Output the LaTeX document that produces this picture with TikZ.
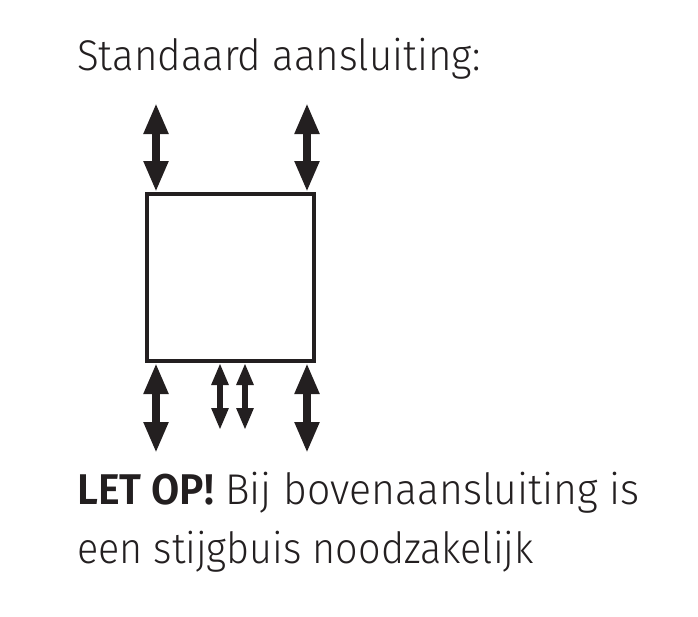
\documentclass[tikz,border=0pt]{standalone}
\usepackage{fontspec}
\setmainfont{Fira Sans Light}[BoldFont=Fira Sans SemiBold]
\usepackage{tikz}
\usetikzlibrary{arrows.meta,positioning}

\definecolor{ink}{HTML}{231F20}

\begin{document}
\begin{tikzpicture}[x=1pt,y=-1pt,
		pipe/.style={{Triangle[length=31pt,width=23pt]}-{Triangle[length=31pt,width=23pt]},line width=8.5pt,color=ink},
		thinpipe/.style={{Triangle[length=22pt,width=16pt]}-{Triangle[length=22pt,width=16pt]},line width=6pt,color=ink},
		label/.style={anchor=base west,inner sep=0pt,text=ink,font=\fontsize{43}{59}\selectfont}]
			\useasboundingbox (0,0) rectangle (698,616);
			\node[label] (title) at (77,70) {\scalebox{0.937}[1]{Standaard aansluiting:}};
			\node[draw=ink,line width=4pt,minimum width=167pt,minimum height=167pt,inner sep=0pt] (rad) at (230.5,277.5) {};
			\coordinate (tl) at (156,103);
			\coordinate (tr) at (307,103);
			\coordinate (bl) at (156,453);
			\coordinate (br) at (307,453);
			\coordinate (ba) at (220,430);
			\coordinate (bb) at (245,430);
			\path[pipe]
				(tl) edge (tl |- rad.north)
				(tr) edge (tr |- rad.north)
				(bl) edge (bl |- rad.south)
				(br) edge (br |- rad.south);
			\path[thinpipe]
				(ba) edge (ba |- rad.south)
				(bb) edge (bb |- rad.south);
			\node[label] (note) at (77,504) {\scalebox{0.952}[1]{\textbf{LET OP!} Bij bovenaansluiting is}};
			\node[label] (note2) at (77,563) {\scalebox{0.92}[1]{een stijgbuis noodzakelijk}};
		\end{tikzpicture}
\end{document}
